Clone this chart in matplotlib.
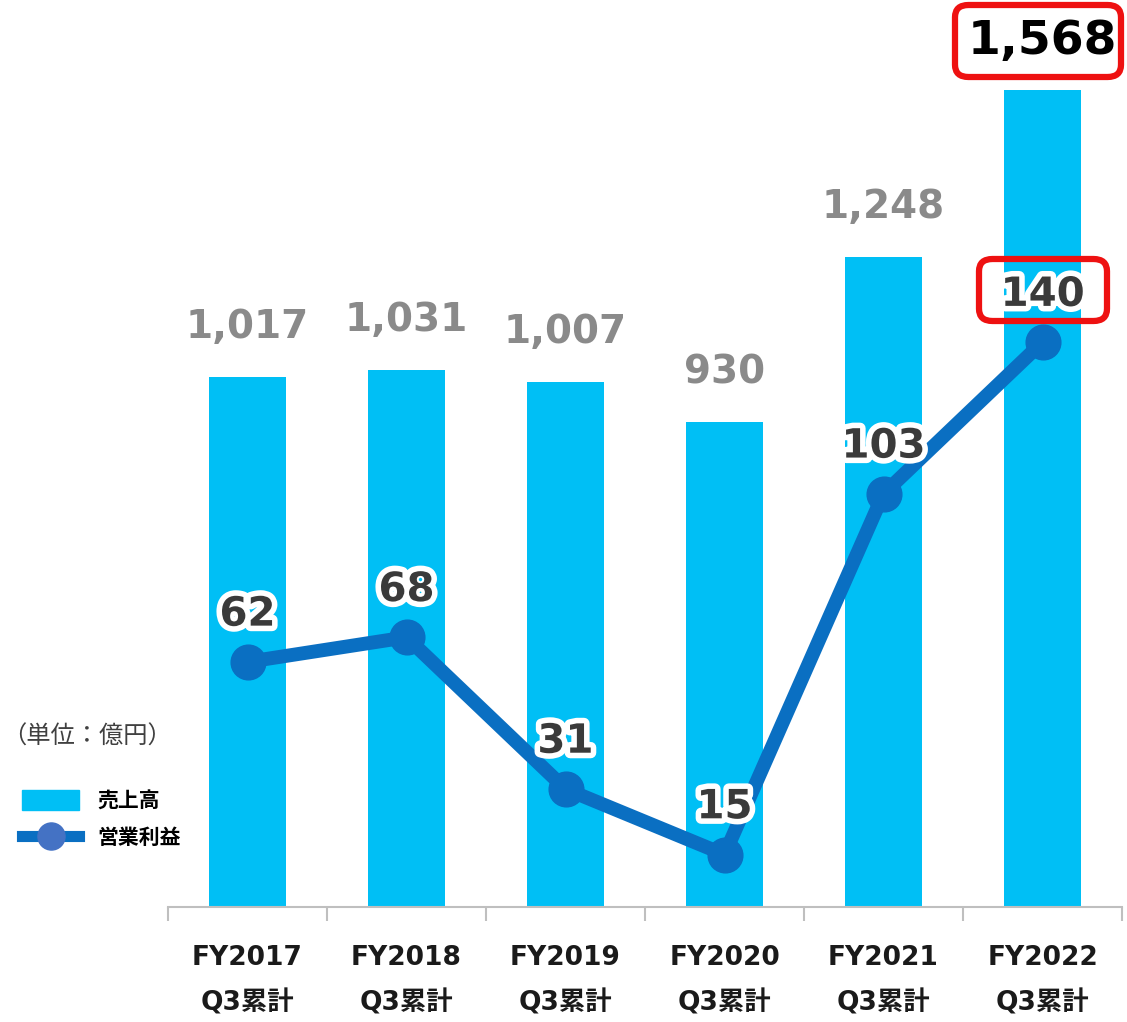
import matplotlib.pyplot as plt
import matplotlib.patheffects as pe
from matplotlib.patches import FancyBboxPatch, Patch
from matplotlib.lines import Line2D

plt.rcParams['font.family'] = ['DejaVu Sans', 'Noto Sans CJK JP']

# data (億円)
periods = ['FY2017\nQ3累計', 'FY2018\nQ3累計', 'FY2019\nQ3累計',
           'FY2020\nQ3累計', 'FY2021\nQ3累計', 'FY2022\nQ3累計']
sales = [1017, 1031, 1007, 930, 1248, 1568]
op_profit = [62, 68, 31, 15, 103, 140]
sales_labels = ['1,017', '1,031', '1,007', '930', '1,248', '1,568']

bar_color = '#00BFF5'
line_color = '#0A6FC2'

fig = plt.figure(figsize=(11.27, 10.22), dpi=100)
ax = fig.add_axes([168 / 1127, 1 - 907 / 1022, (1122 - 168) / 1127, (907 - 40) / 1022])
ax2 = ax.twinx()

x = list(range(len(periods)))
ax.bar(x, sales, width=0.49, color=bar_color, zorder=1)
ax.set_xlim(-0.5, 5.5)
ax.set_ylim(0, 1664)
ax2.set_ylim(2.2, 213.7)

ax2.plot(x, op_profit, color=line_color, lw=10, marker='o', ms=25,
         solid_capstyle='round', zorder=3)

# bar value labels
for i, (v, s) in enumerate(zip(sales, sales_labels)):
    last = i == len(sales) - 1
    ax.annotate(s, (i, v), xytext=(0, 35 if last else 36), textcoords='offset points',
                ha='center', va='center', fontsize=34 if last else 28,
                fontweight='bold', color='black' if last else '#8A8A8A', zorder=5)

# line value labels
for i, v in enumerate(op_profit):
    ax2.annotate(str(v), (i, v), xytext=(0, 34), textcoords='offset points',
                 ha='center', va='center', fontsize=29, fontweight='bold',
                 color='#3A3A3A', zorder=6,
                 path_effects=[pe.withStroke(linewidth=8, foreground='white')])

# red highlight boxes
def red_box(cx_px, cy_px, w_px, h_px):
    fig.patches.append(FancyBboxPatch(
        ((cx_px - w_px / 2) / 1127, 1 - (cy_px + h_px / 2) / 1022),
        w_px / 1127, h_px / 1022, boxstyle='round,pad=0,rounding_size=0.012',
        transform=fig.transFigure, fill=False, edgecolor='#EE1111', lw=4.5, zorder=10))

red_box(1038, 41, 166, 72)
red_box(1043, 290, 128, 62)

# axes styling
for sp in ['top', 'right', 'left']:
    ax.spines[sp].set_visible(False)
    ax2.spines[sp].set_visible(False)
ax2.spines['bottom'].set_visible(False)
ax.spines['bottom'].set_color('#BFBFBF')
ax.spines['bottom'].set_linewidth(1.5)
ax.set_yticks([])
ax2.set_yticks([])
ax.set_xticks([i - 0.5 for i in range(len(periods) + 1)], [''] * (len(periods) + 1))
ax.tick_params(axis='x', length=10, width=1.5, color='#BFBFBF')
ax.set_xticks(x, periods, minor=True)
ax.tick_params(axis='x', which='minor', length=0, pad=27, labelsize=19,
               labelcolor='#1A1A1A')
for t in ax.get_xticklabels(minor=True):
    t.set_fontweight('bold')
    t.set_linespacing(2.0)

# unit and legend
fig.text(2 / 1127, 1 - 737 / 1022, '（単位：億円）', fontsize=17.5, color='#404040',
         va='center', ha='left')
handles = [Patch(color=bar_color),
           Line2D([], [], color=line_color, lw=8, marker='o', ms=19.5,
                  markerfacecolor='#4472C4', markeredgecolor='#4472C4')]
fig.legend(handles, ['売上高', '営業利益'], loc='upper left',
           bbox_to_anchor=(12 / 1127, 1 - 780 / 1022), frameon=False,
           prop={'weight': 'bold', 'size': 15}, handlelength=2.7, handleheight=1.1,
           labelspacing=0.75, handletextpad=0.9, borderaxespad=0, borderpad=0.5)

fig.savefig('out.png', dpi=100)
